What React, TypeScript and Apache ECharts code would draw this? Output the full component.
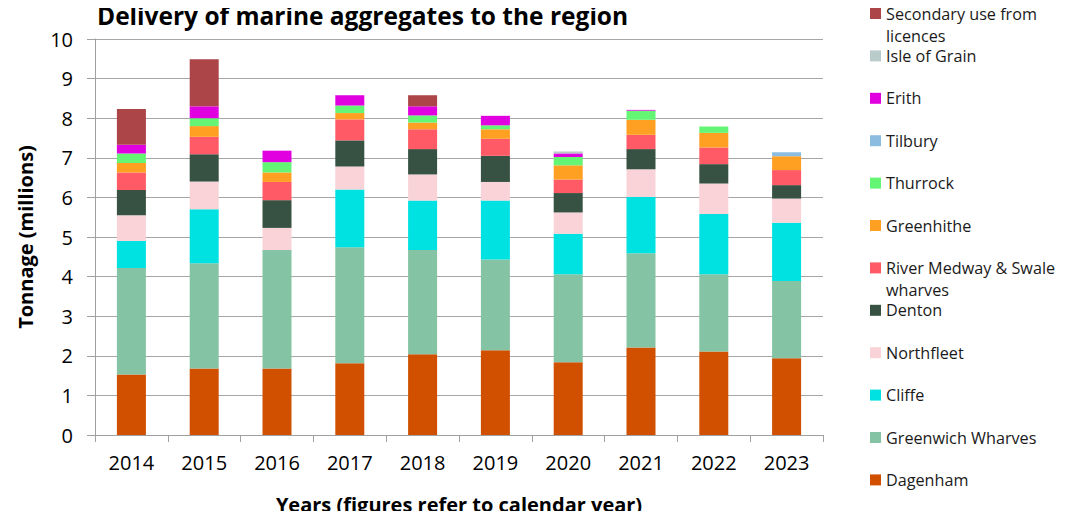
import React, { useEffect, useRef } from "react";
import * as echarts from "echarts";

const years = ["2014", "2015", "2016", "2017", "2018", "2019", "2020", "2021", "2022", "2023"];
const yTicks = [0, 10, 1];

const dagenham = [1.53, 1.68, 1.68, 1.81, 2.04, 2.14, 1.84, 2.21, 2.11, 1.94];
const greenwich = [2.69, 2.66, 2.99, 2.93, 2.63, 2.29, 2.22, 2.38, 1.95, 1.95];
const cliffe = [0.68, 1.36, 0, 1.46, 1.25, 1.49, 1.02, 1.42, 1.52, 1.47];
const northfleet = [0.65, 0.7, 0.56, 0.58, 0.66, 0.47, 0.54, 0.7, 0.77, 0.61];
const denton = [0.64, 0.69, 0.7, 0.66, 0.64, 0.66, 0.49, 0.51, 0.49, 0.34];
const medway = [0.44, 0.44, 0.46, 0.53, 0.5, 0.43, 0.34, 0.36, 0.42, 0.38];
const greenhithe = [0.24, 0.27, 0.24, 0.16, 0.17, 0.24, 0.36, 0.38, 0.37, 0.35];
const thurrock = [0.24, 0.2, 0.26, 0.19, 0.18, 0.1, 0.21, 0.23, 0.16, 0];
const tilbury = [0, 0, 0, 0, 0, 0, 0, 0, 0, 0.1];
const erith = [0.22, 0.3, 0.29, 0.26, 0.23, 0.24, 0.09, 0.02, 0, 0];
const isleOfGrain = [0, 0, 0, 0, 0, 0, 0.05, 0, 0, 0];
const secondary = [0.9, 1.19, 0, 0, 0.28, 0, 0, 0, 0, 0];

// bottom to top stacking order
const seriesDefs = [
  { name: "Dagenham", data: dagenham, color: "#d05000" },
  { name: "Greenwich Wharves", data: greenwich, color: "#84c3a3" },
  { name: "Cliffe", data: cliffe, color: "#00e1e1" },
  { name: "Northfleet", data: northfleet, color: "#f9d3d7" },
  { name: "Denton", data: denton, color: "#375243" },
  { name: "River Medway & Swale wharves", data: medway, color: "#ff5a66" },
  { name: "Greenhithe", data: greenhithe, color: "#ffa022" },
  { name: "Thurrock", data: thurrock, color: "#63f573" },
  { name: "Tilbury", data: tilbury, color: "#8cbde0" },
  { name: "Erith", data: erith, color: "#e000e0" },
  { name: "Isle of Grain", data: isleOfGrain, color: "#b9cbcb" },
  { name: "Secondary use from licences", data: secondary, color: "#ab4548" },
];

// wrapped legend labels: a leading empty line keeps the icon level with the first line
const legendLabels: Record<string, string> = {
  "Secondary use from licences": "\nSecondary use from\nlicences",
  "River Medway & Swale wharves": "\nRiver Medway & Swale\nwharves",
};

const FONT = "'Open Sans', Lato, sans-serif";

export default function App() {
  const ref = useRef<HTMLDivElement>(null);
  useEffect(() => {
    if (!ref.current) return;
    const chart = echarts.init(ref.current, undefined, { renderer: "svg" });
    const legendOrder = [...seriesDefs].reverse();
    const legends = legendOrder.map((s, i) => {
      const center = 13.5 + 42.4 * i;
      const wrapped = !!legendLabels[s.name];
      return {
        orient: "vertical",
        left: 870,
        top: wrapped ? center - 33 : center - 11,
        padding: 0,
        itemWidth: 11,
        itemHeight: 11,
        itemGap: 0,
        icon: "rect",
        selectedMode: false,
        data: [s.name],
        formatter: (n: string) => legendLabels[n] || n,
        textStyle: {
          fontFamily: FONT,
          fontSize: 16.2,
          color: "#1a1a1a",
          lineHeight: 22,
        },
      };
    });
    chart.setOption({
      animation: false,
      textStyle: { fontFamily: FONT },
      title: {
        text: "Delivery of marine aggregates to the region",
        left: 97,
        top: 3,
        padding: 0,
        textStyle: { fontFamily: FONT, fontSize: 24.5, fontWeight: "bold", color: "#000" },
      },
      legend: legends,
      grid: { left: 95, right: 260, top: 39, bottom: 82, containLabel: false },
      xAxis: {
        type: "category",
        data: years,
        boundaryGap: true,
        name: "Years (figures refer to calendar year)",
        nameLocation: "middle",
        nameGap: 59,
        nameTextStyle: { fontFamily: FONT, fontSize: 20, fontWeight: "bold", color: "#000" },
        axisLine: { lineStyle: { color: "#a0a0a0", width: 1 } },
        axisTick: { show: true, length: 7, lineStyle: { color: "#a0a0a0" } },
        axisLabel: { fontFamily: FONT, fontSize: 20, color: "#000", margin: 17 },
      },
      yAxis: {
        type: "value",
        min: yTicks[0],
        max: yTicks[1],
        interval: yTicks[2],
        name: "Tonnage (millions)",
        nameLocation: "middle",
        nameGap: 60,
        nameTextStyle: { fontFamily: FONT, fontSize: 20, fontWeight: "bold", color: "#000" },
        axisLine: { show: true, lineStyle: { color: "#a0a0a0", width: 1 } },
        axisTick: { show: true, length: 8, lineStyle: { color: "#a0a0a0" } },
        axisLabel: { fontFamily: FONT, fontSize: 20, color: "#000", margin: 22 },
        splitLine: { lineStyle: { color: "#a6a6a6", width: 1 } },
      },
      series: seriesDefs.map((s) => ({
        name: s.name,
        type: "bar",
        stack: "total",
        barWidth: 29,
        data: s.data,
        itemStyle: { color: s.color },
        emphasis: { disabled: true },
      })),
    });
    return () => chart.dispose();
  }, []);
  return <div ref={ref} style={{ width: 1083, height: 519, margin: -8 }} />;
}
